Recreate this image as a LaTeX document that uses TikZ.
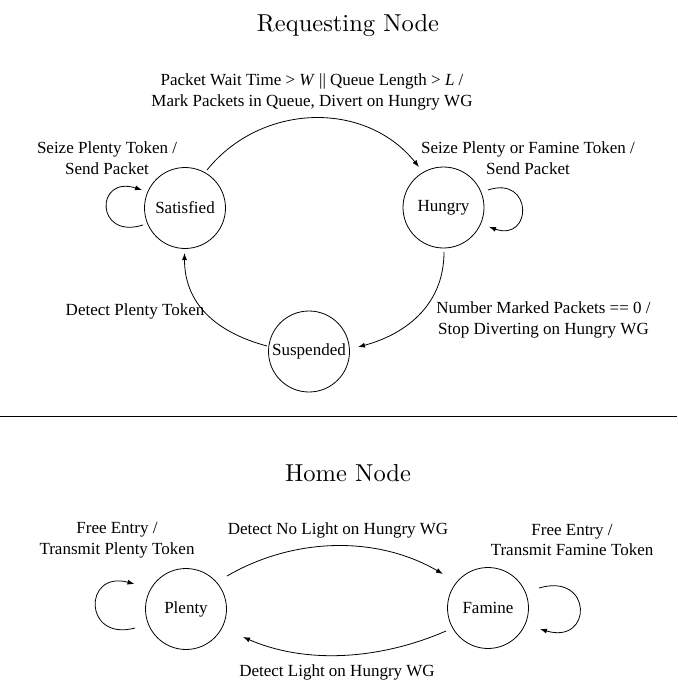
\documentclass[tikz,border=0pt]{standalone}
\usepackage{fontspec}
\newfontfamily\labelfont{Liberation Serif}
\newfontfamily\headfont{lmroman10-regular.otf}
\usetikzlibrary{arrows.meta}
\begin{document}
\begin{tikzpicture}[x=1pt,y=-1pt,
  state/.style={draw, circle, line width=0.8pt, minimum size=81pt, inner sep=0pt,
    font=\labelfont\fontsize{17}{20.5}\selectfont},
  lbl/.style={align=center, inner sep=0pt, font=\labelfont\fontsize{17}{20.5}\selectfont},
  heading/.style={inner sep=0pt, font=\headfont\fontsize{24.5}{29}\selectfont},
  arr/.style={line width=0.8pt, -{Latex[length=7pt,width=5pt]}},
  plain/.style={line width=0.8pt},
]
\useasboundingbox (0,0) rectangle (677,682);

% ---------- requesting node ----------
\node[heading] (reqtitle) at (348,26) {Requesting Node};

\node[state] (sat) at (185,208) {Satisfied};
\node[state] (hun) at (443.5,207.5) {Hungry};
\node[state] (sus) at (309,351.5) {Suspended};

\draw[arr] ([shift={(22,-38)}]sat.center) .. controls +(54,-67) and +(-54,-67) .. ([shift={(-24.5,-40.5)}]hun.center);
\node[lbl] (ltop) at (312,92) {Packet Wait Time > \textit{W} || Queue Length > \textit{L} /\\Mark Packets in Queue, Divert on Hungry WG};

\draw[arr] ([shift={(-42,17)}]sat.center) .. controls +(-48,15) and +(-47,-15) .. ([shift={(-43,-18)}]sat.center);
\node[lbl] (lsat) at (107,158) {Seize Plenty Token /\\Send Packet};

\draw[arr] ([shift={(44.5,-17.5)}]hun.center) .. controls +(45,-15) and +(44,15) .. ([shift={(45.5,19.5)}]hun.center);
\node[lbl] (lhun) at (528,158) {Seize Plenty or Famine Token /\\Send Packet};

\draw[arr] ([shift={(0.5,44.5)}]hun.center) .. controls +(0,55) and +(45,-12) .. ([shift={(49,-4.5)}]sus.center);
\node[lbl] (lsus) at (543.5,320) {Number Marked Packets == 0 /\\Stop Diverting on Hungry WG};

\draw[arr] ([shift={(-42,-5.5)}]sus.center) .. controls +(-45,-12) and +(0,55) .. ([shift={(-0.5,45)}]sat.center);
\node[lbl] (lret) at (135,311) {Detect Plenty Token};

% ---------- separator ----------
\coordinate (ruleL) at (0,416);
\coordinate (ruleR) at (677,416);
\draw[plain] (ruleL) -- (ruleR);

% ---------- home node ----------
\node[heading] (hometitle) at (348,473) {Home Node};

\node[state] (ple) at (186,609) {Plenty};
\node[state] (fam) at (488,608) {Famine};

\draw[arr] ([shift={(-51,19)}]ple.center) .. controls +(-52,14) and +(-51.5,-14) .. ([shift={(-51.5,-25)}]ple.center);
\node[lbl] (lple) at (117,540) {Free Entry /\\Transmit Plenty Token};

\draw[arr] ([shift={(51,-20)}]fam.center) .. controls +(54,-16) and +(53,16) .. ([shift={(52,21)}]fam.center);
\node[lbl] (lfam) at (572,540) {Free Entry /\\Transmit Famine Token};

\draw[arr] ([shift={(41,-33)}]ple.center) .. controls +(66.5,-38.7) and +(-66.5,-38.7) .. ([shift={(-45,-34)}]fam.center);
\node[lbl] (lnolight) at (338,530) {Detect No Light on Hungry WG};

\draw[arr] ([shift={(-42,23)}]fam.center) .. controls +(-64.4,28) and +(64.4,28) .. ([shift={(57,28)}]ple.center);
\node[lbl] (llight) at (337,672) {Detect Light on Hungry WG};
\end{tikzpicture}
\end{document}
